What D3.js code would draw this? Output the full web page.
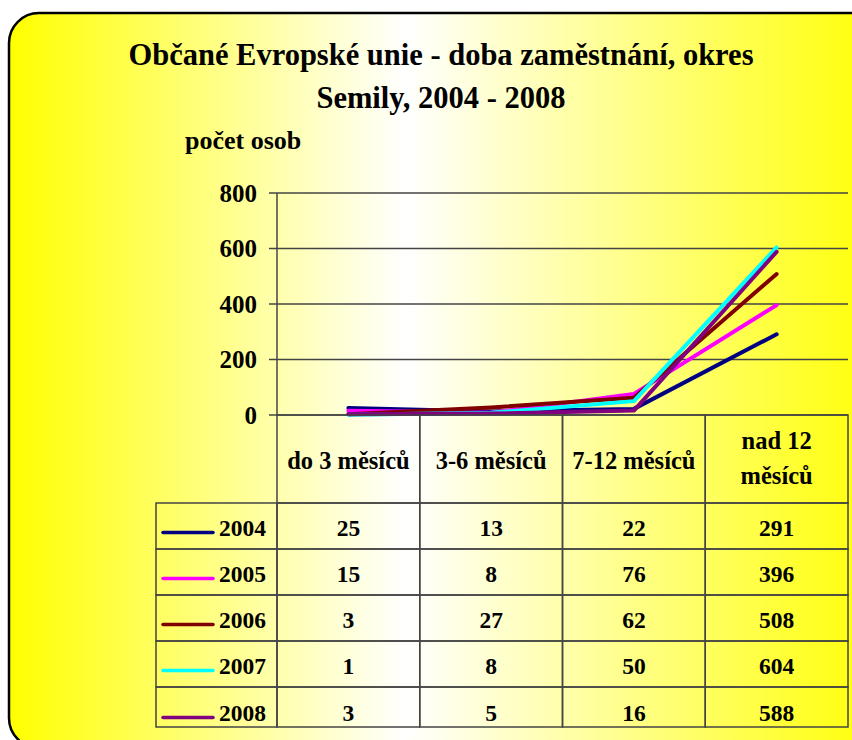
<!DOCTYPE html>
<html>
  <head>
    <script src="https://d3js.org/d3.v7.min.js"></script>
  </head>
  <style type="text/css">
    body { margin: 0; background: #fff; }
    svg { display: block; }
    text { font-family: "Liberation Serif", serif; font-weight: bold; fill: #000; }
    .grid line { stroke: #444; stroke-width: 1.5px; }
    .cell { stroke: #444; stroke-width: 1.5px; fill: none; }
    .series { fill: none; stroke-width: 4px; stroke-linejoin: round; stroke-linecap: round; }
  </style>
  <body>
  <div id="chart"></div>
  <script type="text/javascript">

    var categories = ["do 3 měsíců", "3-6 měsíců", "7-12 měsíců", "nad 12 měsíců"];
    var years = ["2004", "2005", "2006", "2007", "2008"];
    var colors = ["#000080", "#ff00ff", "#800000", "#00ffff", "#800080"];
    var v2004 = [25, 13, 22, 291];
    var v2005 = [15, 8, 76, 396];
    var v2006 = [3, 27, 62, 508];
    var v2007 = [1, 8, 50, 604];
    var v2008 = [3, 5, 16, 588];
    var yTicks = [0, 200, 400, 600, 800];

    var series = [v2004, v2005, v2006, v2007, v2008];

    var width = 852;
    var height = 740;

    var svg = d3.select("#chart")
      .append("svg")
        .attr("width", width)
        .attr("height", height);

    var grad = svg.append("defs").append("linearGradient")
        .attr("id", "bg")
        .attr("x1", "0").attr("x2", "1").attr("y1", "0").attr("y2", "0");
    grad.append("stop").attr("offset", "0").attr("stop-color", "#ffff00");
    grad.append("stop").attr("offset", "0.45").attr("stop-color", "#ffffff");
    grad.append("stop").attr("offset", "1").attr("stop-color", "#ffff00");

    svg.append("rect")
        .attr("x", 9).attr("y", 13)
        .attr("width", 880).attr("height", 735)
        .attr("rx", 30).attr("ry", 30)
        .attr("fill", "url(#bg)")
        .attr("stroke", "#000")
        .attr("stroke-width", 2.5);

    // title
    svg.append("text")
        .attr("x", 441).attr("y", 65)
        .attr("text-anchor", "middle")
        .style("font-size", "30.5px")
        .text("Občané Evropské unie - doba zaměstnání, okres");
    svg.append("text")
        .attr("x", 441).attr("y", 108)
        .attr("text-anchor", "middle")
        .style("font-size", "30.5px")
        .text("Semily, 2004 - 2008");
    svg.append("text")
        .attr("x", 185).attr("y", 149)
        .style("font-size", "26px")
        .text("počet osob");

    var x = d3.scaleBand()
        .domain(categories)
        .range([277, 848]);

    var y = d3.scaleLinear()
        .domain([0, 800])
        .range([415, 193]);

    // grid + y labels
    var grid = svg.append("g").attr("class", "grid");
    grid.selectAll("line")
      .data(yTicks)
      .enter().append("line")
        .attr("x1", x.range()[0] - 8)
        .attr("x2", x.range()[1])
        .attr("y1", function(d) { return y(d); })
        .attr("y2", function(d) { return y(d); });

    svg.append("g").selectAll("text")
      .data(yTicks)
      .enter().append("text")
        .attr("x", 257)
        .attr("y", function(d) { return y(d); })
        .attr("dy", "0.34em")
        .attr("text-anchor", "end")
        .style("font-size", "25px")
        .text(function(d) { return d; });

    svg.append("line")
        .attr("class", "cell")
        .attr("x1", x.range()[0]).attr("x2", x.range()[0])
        .attr("y1", y(800)).attr("y2", y(0));

    // lines
    var line = d3.line()
        .x(function(d, i) { return x(categories[i]) + x.bandwidth() / 2; })
        .y(function(d) { return y(d); });

    svg.append("g").selectAll("path")
      .data(series)
      .enter().append("path")
        .attr("class", "series")
        .attr("stroke", function(d, i) { return colors[i]; })
        .attr("d", line);

    // data table
    var headTop = y(0), rowTop = 503, rowH = 46, tableBottom = 727;
    var legendLeft = 156;
    var table = svg.append("g");

    table.selectAll("rect.head")
      .data(categories)
      .enter().append("rect")
        .attr("class", "cell")
        .attr("x", function(d) { return x(d); })
        .attr("y", headTop)
        .attr("width", x.bandwidth())
        .attr("height", rowTop - headTop);

    var heads = table.selectAll("text.head")
      .data(categories)
      .enter().append("text")
        .attr("text-anchor", "middle")
        .style("font-size", "24.5px")
        .attr("x", function(d) { return x(d) + x.bandwidth() / 2; });
    heads.each(function(d) {
      var t = d3.select(this);
      if (d === "nad 12 měsíců") {
        t.append("tspan").attr("x", x(d) + x.bandwidth() / 2).attr("y", 449).text("nad 12");
        t.append("tspan").attr("x", x(d) + x.bandwidth() / 2).attr("y", 484).text("měsíců");
      } else {
        t.attr("y", 469).text(d);
      }
    });

    years.forEach(function(yr, r) {
      var top = rowTop + r * rowH;
      var bottom = r === years.length - 1 ? tableBottom : top + rowH;
      var mid = top + 25.5 + (r === years.length - 1 ? 1 : 0);
      table.append("rect")
          .attr("class", "cell")
          .attr("x", legendLeft).attr("y", top)
          .attr("width", x.range()[0] - legendLeft)
          .attr("height", bottom - top);
      table.append("line")
          .attr("x1", 163).attr("x2", 213)
          .attr("y1", mid + 4).attr("y2", mid + 4)
          .attr("stroke", colors[r])
          .attr("stroke-width", 3.5)
          .attr("stroke-linecap", "round");
      table.append("text")
          .attr("x", 266).attr("y", mid)
          .attr("dy", "0.34em")
          .attr("text-anchor", "end")
          .style("font-size", "23.5px")
          .text(yr);
      categories.forEach(function(c, i) {
        table.append("rect")
            .attr("class", "cell")
            .attr("x", x(c)).attr("y", top)
            .attr("width", x.bandwidth())
            .attr("height", bottom - top);
        table.append("text")
            .attr("x", x(c) + x.bandwidth() / 2)
            .attr("y", mid)
            .attr("dy", "0.34em")
            .attr("text-anchor", "middle")
            .style("font-size", "23.5px")
            .text(series[r][i]);
      });
    });

  </script>
  </body>
</html>
